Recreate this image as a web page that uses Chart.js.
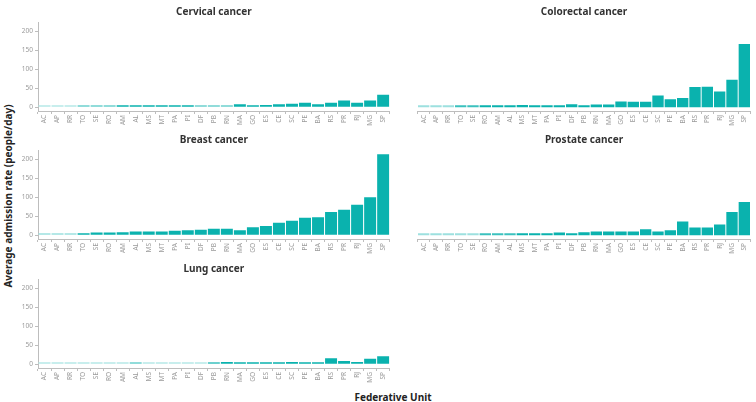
<!DOCTYPE html>
<html>
<head>
<meta charset="utf-8">
<script src="https://cdn.jsdelivr.net/npm/chart.js@4.4.1/dist/chart.umd.min.js"></script>
<style>
  body { margin: 0; background: #fff; width: 756px; height: 402px; position: relative; overflow: hidden; font-family: "Noto Sans", sans-serif; }
  canvas { position: absolute; }
  .ytitle { position: absolute; left: 8px; top: 196px; transform: translate(-50%, -50%) rotate(-90deg); font-weight: bold; font-size: 10px; white-space: nowrap; color: #222; }
  .xtitle { position: absolute; left: 393px; top: 397px; transform: translate(-50%, -50%); font-weight: bold; font-size: 10px; white-space: nowrap; color: #222; }
</style>
</head>
<body>
<div class="ytitle">Average admission rate (people/day)</div>
<div class="xtitle">Federative Unit</div>
<script>
// Federative units, ordered as in the figure
const states = ["AC", "AP", "RR", "TO", "SE", "RO", "AM", "AL", "MS", "MT", "PA", "PI", "DF", "PB",
  "RN", "MA", "GO", "ES", "CE", "SC", "PE", "BA", "RS", "PR", "RJ", "MG", "SP"];

// average admissions per day
const cervical = [1, 1, 1, 2, 2, 2, 4, 4, 3, 4, 4, 3, 2, 2, 2, 8, 5, 6, 8, 9, 12, 8, 12, 17.5, 12, 17.5, 33];
const colorectal = [1.5, 1.5, 1.5, 2.5, 2.5, 3.5, 3.5, 4, 6, 5, 4, 4, 8, 4, 7, 7, 15, 14, 14, 31, 21, 24, 53, 54, 41, 72, 166];
const breast = [1.5, 1.5, 1.5, 5, 7, 7, 8, 10, 9.5, 9.5, 12, 13, 14, 17, 17, 13, 21, 24, 33, 38, 46, 47, 61, 67, 80, 100, 213];
const prostate = [1.5, 1.5, 1.5, 1.5, 1.5, 2.5, 2.5, 2.5, 3.5, 4.5, 3.5, 7, 5, 8, 9.5, 10, 10, 10, 15.5, 9.5, 13, 36, 20, 20, 28, 61, 87];
const lung = [1, 1, 1, 1, 1, 1, 1, 2, 1, 1, 1, 1, 1, 2.5, 6, 4, 3.5, 3.5, 3.5, 6, 4, 5, 15.5, 8.5, 6, 14, 21];

const yTicks = [0, 50, 100, 150, 200];

// small values are drawn in a lighter teal
function shade(v) {
  const a = Math.max(0.3, Math.min(1, (v - 0.5) / 2.5));
  const r = Math.round(255 - (255 - 10) * a);
  const g = Math.round(255 - (255 - 178) * a);
  const b = Math.round(255 - (255 - 174) * a);
  return `rgb(${r},${g},${b})`;
}

const panels = [
  { title: "Cervical cancer", data: cervical, left: 18, top: 0, width: 374, yAxis: true },
  { title: "Colorectal cancer", data: colorectal, left: 392, top: 0, width: 364, yAxis: false },
  { title: "Breast cancer", data: breast, left: 18, top: 128, width: 374, yAxis: true },
  { title: "Prostate cancer", data: prostate, left: 392, top: 128, width: 364, yAxis: false },
  { title: "Lung cancer", data: lung, left: 18, top: 257, width: 374, yAxis: true },
];

const axisGrey = "#bdbdbd";
const tickGrey = "#9a9a9a";

panels.forEach((p) => {
  const canvas = document.createElement("canvas");
  canvas.width = p.width;
  canvas.height = 132;
  canvas.style.left = p.left + "px";
  canvas.style.top = p.top + "px";
  document.body.appendChild(canvas);

  new Chart(canvas, {
    type: "bar",
    data: {
      labels: states,
      datasets: [
        {
          data: p.data,
          backgroundColor: p.data.map(shade),
          barPercentage: 0.92,
          categoryPercentage: 1,
          minBarLength: 2,
        },
      ],
    },
    options: {
      responsive: false,
      animation: false,
      layout: { padding: p.yAxis ? { left: 0, right: 1.5 } : { left: 5.5, right: 5.5 } },
      plugins: {
        legend: { display: false },
        tooltip: { enabled: false },
        title: {
          display: true,
          text: p.title,
          fullSize: false,
          color: "#333",
          font: { family: "Noto Sans", size: 10, weight: "bold" },
          padding: { top: 6, bottom: 4 },
        },
      },
      scales: {
        x: {
          grid: { drawOnChartArea: false, drawTicks: true, tickLength: 3, color: axisGrey },
          border: { color: axisGrey, width: 1 },
          ticks: {
            color: tickGrey,
            font: { family: "Noto Sans", size: 6.5 },
            minRotation: 90,
            maxRotation: 90,
            autoSkip: false,
            padding: 1,
          },
          afterFit: (scale) => { scale.height = 21; },
        },
        y: {
          display: p.yAxis,
          min: -10,
          max: 224,
          grid: { drawOnChartArea: false, drawTicks: true, tickLength: 3, color: axisGrey },
          border: { color: axisGrey, width: 1 },
          ticks: {
            color: tickGrey,
            font: { family: "Noto Sans", size: 6.5 },
            padding: 2,
          },
          afterBuildTicks: (scale) => { scale.ticks = yTicks.map((v) => ({ value: v })); },
          afterFit: (scale) => { scale.width = 20; },
        },
      },
    },
  });
});
</script>
</body>
</html>
